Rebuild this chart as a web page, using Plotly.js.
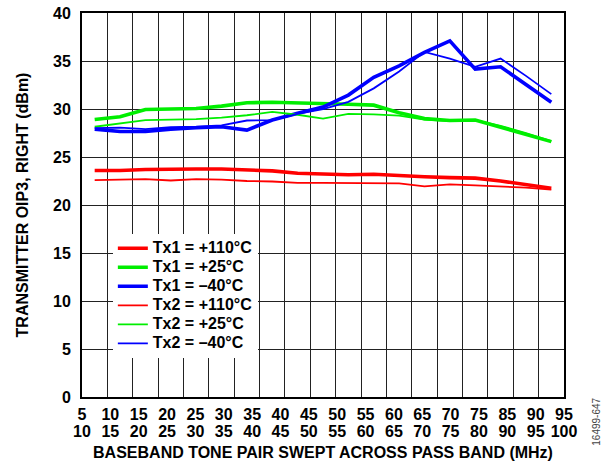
<!DOCTYPE html>
<html>
<head>
<meta charset="utf-8">
<script src="https://cdn.plot.ly/plotly-3.0.1.min.js"></script>
<style>html,body{margin:0;padding:0;background:#fff;}#chart{width:605px;height:463px;}</style>
</head>
<body>
<div id="chart"></div>
<script>
// Tone pairs swept (MHz): lower / upper tone
const tonePairs = ["5/10","10/15","15/20","20/25","25/30","30/35","35/40","40/45","45/50","50/55",
                   "55/60","60/65","65/70","70/75","75/80","80/85","85/90","90/95","95/100"];
// Tick labels as printed on the chart (two rows)
const tickTop    = ["5","10","15","20","25","30","35","40","45","50","55","60","65","70","75","85","90","95"];
const tickBottom = ["10","15","20","25","30","35","40","45","50","55","60","65","70","75","80","90","95","100"];

// Series names
const seriesNames = ["Tx1 = +110°C","Tx1 = +25°C","Tx1 = –40°C","Tx2 = +110°C","Tx2 = +25°C","Tx2 = –40°C"];

// OIP3 (dBm)
const tx1_110 = [23.6,23.6,23.7,23.75,23.75,23.75,23.65,23.55,23.3,23.2,23.15,23.2,23.05,22.95,22.85,22.8,22.5,22.1,21.75];
const tx1_25  = [28.9,29.2,29.95,30.0,30.05,30.3,30.65,30.7,30.65,30.6,30.5,30.4,29.6,29.0,28.8,28.85,28.1,27.35,26.6];
const tx1_m40 = [27.9,27.65,27.65,27.9,28.05,28.15,27.8,28.85,29.55,30.2,31.45,33.3,34.5,35.9,37.1,34.15,34.4,32.55,30.7];
const tx2_110 = [22.6,22.65,22.7,22.55,22.7,22.65,22.5,22.45,22.3,22.3,22.3,22.3,22.25,21.95,22.15,22.05,21.95,21.8,21.6];
const tx2_25  = [28.15,28.5,28.85,28.9,28.95,29.1,29.35,29.7,29.4,29.0,29.5,29.45,29.3,28.9,28.75,28.85,28.25,27.5,26.65];
const tx2_m40 = [28.0,28.05,27.9,28.1,28.15,28.3,28.8,28.85,29.5,30.0,30.75,32.15,33.9,35.95,35.25,34.4,35.25,33.45,31.55];

const RED = "#ff0000", GREEN = "#00ee00", BLUE = "#0000ff";
const THICK = 3.6, THIN = 1.8;

function tr(name, y, color, width) {
  return {type: "scatter", mode: "lines",
          name: '<span style="font-size:16px">' + name + '</span>',
          x: tonePairs, y: y,
          xaxis: "x", yaxis: "y", line: {color: color, width: width}, hoverinfo: "skip"};
}

const tickIdx = tickTop.map((_, i) => i);
// invisible helpers so that the two label axes get drawn
function helper(ax) {
  return {type: "scatter", mode: "lines", x: tickIdx, y: tickIdx.map(() => null),
          xaxis: ax, yaxis: "y", showlegend: false, hoverinfo: "skip", line: {width: 0}};
}

const traces = [
  tr(seriesNames[0], tx1_110, RED, THICK),
  tr(seriesNames[1], tx1_25,  GREEN, THICK),
  tr(seriesNames[2], tx1_m40, BLUE, THICK),
  tr(seriesNames[3], tx2_110, RED, THIN),
  tr(seriesNames[4], tx2_25,  GREEN, THIN),
  tr(seriesNames[5], tx2_m40, BLUE, THIN),
  helper("x2"), helper("x3")
];

const FONT = "Liberation Sans, Arial, Helvetica, sans-serif";
const TF = {family: FONT, size: 16, weight: "bold", color: "#000"};

function labelAxis(texts, standoff, title) {
  return {overlaying: "x", anchor: "y", side: "bottom", type: "linear",
          range: [0, texts.length - 1], tickmode: "array", tickvals: tickIdx, ticktext: texts,
          showgrid: false, zeroline: false, showline: false, ticks: "",
          ticklabelstandoff: standoff, tickfont: TF,
          title: title ? {text: title, font: {family: FONT, size: 16, weight: "bold", color: "#000"}, standoff: 7} : {text: ""}};
}

const layout = {
  width: 605, height: 463,
  margin: {l: 82, r: 41, t: 13, b: 66},
  paper_bgcolor: "#fff", plot_bgcolor: "#fff",
  font: {family: FONT, color: "#000", size: 16, weight: "bold"},
  showlegend: true,
  legend: {x: 0.064, y: 0.425, xanchor: "left", yanchor: "top", bgcolor: "#fff",
           borderwidth: 0, font: {family: FONT, size: 12, weight: "bold", color: "#000"},
           tracegroupgap: 0, traceorder: "normal"},
  xaxis: {type: "category", categoryorder: "array", categoryarray: tonePairs,
          range: [-0.5, tonePairs.length - 0.5], tickson: "boundaries",
          showgrid: true, gridcolor: "#222", gridwidth: 1,
          showticklabels: false, ticks: "", zeroline: false,
          showline: true, linecolor: "#000", linewidth: 2, mirror: true,
          title: {text: ""}},
  xaxis2: labelAxis(tickTop, 6, null),
  xaxis3: labelAxis(tickBottom, 23, "BASEBAND TONE PAIR SWEPT ACROSS PASS BAND (MHz)"),
  yaxis: {range: [0, 40], dtick: 5, tick0: 0, showgrid: true, gridcolor: "#222", gridwidth: 1,
          zeroline: false, showline: true, linecolor: "#000", linewidth: 2, mirror: true,
          ticks: "", ticklabelstandoff: 6, tickfont: TF,
          title: {text: "TRANSMITTER OIP3, RIGHT (dBm)",
                  font: {family: FONT, size: 16, weight: "bold", color: "#000"}, standoff: 20}},
  annotations: [{text: "16499-647", xref: "paper", yref: "paper", x: 1.068, y: -0.065,
                 xanchor: "center", yanchor: "middle", textangle: -90, showarrow: false,
                 font: {family: FONT, size: 10, weight: "normal", color: "#444"}}]
};

Plotly.newPlot("chart", traces, layout, {displayModeBar: false, staticPlot: true});
</script>
</body>
</html>
